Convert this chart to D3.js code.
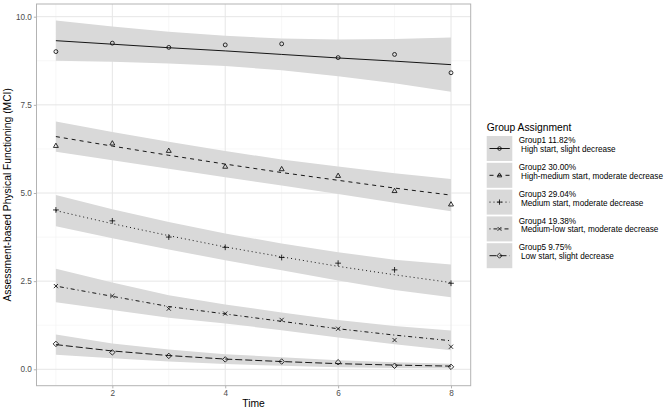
<!DOCTYPE html>
<html>
<head>
<meta charset="utf-8">
<script src="https://cdn.jsdelivr.net/npm/d3@7"></script>
<style>
  html, body { margin: 0; padding: 0; background: #fff; }
  svg { display: block; font-family: "Liberation Sans", Arial, sans-serif; }
</style>
</head>
<body>
<svg id="chart" width="666" height="411"></svg>
<script>
// ---------- data ----------
const times = [1, 2, 3, 4, 5, 6, 7, 8];
const xTicks = [2, 4, 6, 8];
const yTicks = [0, 2.5, 5, 7.5, 10];
const yTickLabels = ["0.0", "2.5", "5.0", "7.5", "10.0"];
const xMinor = [1, 3, 5, 7];
const yMinor = [1.25, 3.75, 6.25, 8.75];

const groupNames = ["Group1 11.82%", "Group2 30.00%", "Group3 29.04%", "Group4 19.38%", "Group5 9.75%"];
const groupDescs = ["High start, slight decrease", "High-medium start, moderate decrease",
  "Medium start, moderate decrease", "Medium-low start, moderate decrease", "Low start, slight decrease"];

const obs1 = [9.01, 9.25, 9.13, 9.20, 9.23, 8.84, 8.93, 8.41];
const fit1 = [9.32, 9.22, 9.12, 9.03, 8.93, 8.83, 8.74, 8.64];
const hi1  = [9.89, 9.72, 9.57, 9.46, 9.38, 9.35, 9.37, 9.41];
const lo1  = [8.75, 8.72, 8.67, 8.60, 8.48, 8.31, 8.11, 7.87];

const obs2 = [6.34, 6.41, 6.20, 5.75, 5.68, 5.49, 5.06, 4.68];
const fit2 = [6.60, 6.33, 6.07, 5.82, 5.58, 5.36, 5.14, 4.94];
const hi2  = [7.03, 6.73, 6.45, 6.19, 5.95, 5.75, 5.56, 5.40];
const lo2  = [6.17, 5.93, 5.69, 5.45, 5.21, 4.97, 4.72, 4.48];

const obs3 = [4.52, 4.21, 3.75, 3.46, 3.17, 3.01, 2.82, 2.44];
const fit3 = [4.50, 4.13, 3.79, 3.47, 3.19, 2.92, 2.68, 2.46];
const hi3  = [4.94, 4.54, 4.18, 3.85, 3.57, 3.32, 3.11, 2.97];
const lo3  = [4.06, 3.72, 3.40, 3.09, 2.81, 2.52, 2.25, 2.04];

const obs4 = [2.36, 2.08, 1.72, 1.58, 1.40, 1.15, 0.83, 0.64];
const fit4 = [2.36, 2.07, 1.78, 1.57, 1.36, 1.15, 0.97, 0.81];
const hi4  = [2.85, 2.46, 2.10, 1.84, 1.61, 1.40, 1.23, 1.10];
const lo4  = [1.90, 1.68, 1.46, 1.30, 1.11, 0.90, 0.71, 0.54];

const obs5 = [0.72, 0.48, 0.38, 0.28, 0.22, 0.20, 0.10, 0.07];
const fit5 = [0.70, 0.52, 0.39, 0.29, 0.22, 0.16, 0.12, 0.09];
const hi5  = [0.99, 0.73, 0.56, 0.43, 0.34, 0.26, 0.20, 0.16];
const lo5  = [0.41, 0.31, 0.22, 0.15, 0.10, 0.06, 0.04, 0.02];

const obsAll = [obs1, obs2, obs3, obs4, obs5];
const fitAll = [fit1, fit2, fit3, fit4, fit5];
const hiAll = [hi1, hi2, hi3, hi4, hi5];
const loAll = [lo1, lo2, lo3, lo4, lo5];

// styles
const dashes = [null, "4,4", "1,3", "1,3,4,3", "7,3"];
const shapes = ["circle", "triangle", "plus", "cross", "diamond"];
const ribbonFill = "#d9d9d9";

// ---------- layout ----------
const svg = d3.select("#chart");
const panel = { left: 36.5, right: 470.7, top: 4, bottom: 385.7 };
const x = d3.scaleLinear().domain([1, 8]).range([55.9, 451]);
const y = d3.scaleLinear().domain([0, 10]).range([369.3, 16.7]);

// panel background
svg.append("rect").attr("x", panel.left).attr("y", panel.top)
  .attr("width", panel.right - panel.left).attr("height", panel.bottom - panel.top)
  .attr("fill", "#fff");

// grid
const grid = svg.append("g");
yMinor.forEach(v => grid.append("line").attr("x1", panel.left).attr("x2", panel.right)
  .attr("y1", y(v)).attr("y2", y(v)).attr("stroke", "#f1f1f1").attr("stroke-width", 0.6));
xMinor.forEach(v => grid.append("line").attr("y1", panel.top).attr("y2", panel.bottom)
  .attr("x1", x(v)).attr("x2", x(v)).attr("stroke", "#f1f1f1").attr("stroke-width", 0.6));
yTicks.forEach(v => grid.append("line").attr("x1", panel.left).attr("x2", panel.right)
  .attr("y1", y(v)).attr("y2", y(v)).attr("stroke", "#e6e6e6").attr("stroke-width", 1));
xTicks.forEach(v => grid.append("line").attr("y1", panel.top).attr("y2", panel.bottom)
  .attr("x1", x(v)).attr("x2", x(v)).attr("stroke", "#e6e6e6").attr("stroke-width", 1));

// symbol drawing
function drawShape(g, shape, cx, cy, s) {
  const st = { stroke: "#000", "stroke-width": 0.8, fill: "none" };
  let el;
  if (shape === "circle") {
    el = g.append("circle").attr("cx", cx).attr("cy", cy).attr("r", s * 0.75);
  } else if (shape === "triangle") {
    const r = s * 1.0;
    el = g.append("path").attr("d",
      `M${cx},${cy - r}L${cx + r * 0.95},${cy + r * 0.65}L${cx - r * 0.95},${cy + r * 0.65}Z`);
  } else if (shape === "plus") {
    const r = s * 1.1;
    el = g.append("path").attr("d", `M${cx - r},${cy}H${cx + r}M${cx},${cy - r}V${cy + r}`);
  } else if (shape === "cross") {
    const r = s * 0.8;
    el = g.append("path").attr("d", `M${cx - r},${cy - r}L${cx + r},${cy + r}M${cx - r},${cy + r}L${cx + r},${cy - r}`);
  } else {
    const r = s * 1.05;
    el = g.append("path").attr("d", `M${cx},${cy - r}L${cx + r},${cy}L${cx},${cy + r}L${cx - r},${cy}Z`);
  }
  Object.entries(st).forEach(([k, v]) => el.attr(k, v));
}

const area = d3.area().x(d => x(d.t)).y0(d => y(d.lo)).y1(d => y(d.hi));
const line = d3.line().x(d => x(d.t)).y(d => y(d.v));

// ribbons
const plotG = svg.append("g");
for (let g = 0; g < 5; g++) {
  const rows = times.map((t, i) => ({ t, lo: loAll[g][i], hi: hiAll[g][i] }));
  plotG.append("path").datum(rows).attr("d", area).attr("fill", ribbonFill);
}
// lines and points
for (let g = 0; g < 5; g++) {
  const rows = times.map((t, i) => ({ t, v: fitAll[g][i] }));
  const p = plotG.append("path").datum(rows).attr("d", line)
    .attr("fill", "none").attr("stroke", "#000").attr("stroke-width", 0.9);
  if (dashes[g]) p.attr("stroke-dasharray", dashes[g]);
  times.forEach((t, i) => drawShape(plotG, shapes[g], x(t), y(obsAll[g][i]), 2.6));
}

// panel border
svg.append("rect").attr("x", panel.left).attr("y", panel.top)
  .attr("width", panel.right - panel.left).attr("height", panel.bottom - panel.top)
  .attr("fill", "none").attr("stroke", "#b3b3b3").attr("stroke-width", 1);

// axes
const yAxis = d3.axisLeft(y).tickValues(yTicks).tickFormat((d, i) => yTickLabels[i])
  .tickSize(2.7).tickPadding(2);
const yg = svg.append("g").attr("transform", `translate(${panel.left},0)`).call(yAxis);
const xAxis = d3.axisBottom(x).tickValues(xTicks).tickFormat(d3.format("d"))
  .tickSize(2.7).tickPadding(2);
const xg = svg.append("g").attr("transform", `translate(0,${panel.bottom})`).call(xAxis);
[yg, xg].forEach(g => {
  g.select(".domain").remove();
  g.selectAll(".tick line").attr("stroke", "#b3b3b3");
  g.selectAll(".tick text").attr("fill", "#4d4d4d").style("font-size", "8.2px")
    .style("font-family", "'Liberation Sans', Arial, sans-serif");
});

// axis titles
svg.append("text").attr("x", (panel.left + panel.right) / 2).attr("y", 407)
  .attr("text-anchor", "middle").style("font-size", "10.3px").attr("fill", "#000").text("Time");
svg.append("text")
  .attr("transform", `translate(10.7,${(panel.top + panel.bottom) / 2}) rotate(-90)`)
  .attr("text-anchor", "middle").style("font-size", "10.3px").attr("fill", "#000")
  .text("Assessment-based Physical Functioning (MCI)");

// legend
const leg = svg.append("g");
leg.append("text").attr("x", 486.7).attr("y", 130.5).style("font-size", "10.3px")
  .attr("fill", "#000").text("Group Assignment");
const keyTop = 136, keyPitch = 26.8, keyW = 25.6, keyH = 25;
for (let g = 0; g < 5; g++) {
  const ty = keyTop + g * keyPitch;
  leg.append("rect").attr("x", 486.7).attr("y", ty).attr("width", keyW).attr("height", keyH)
    .attr("fill", ribbonFill);
  const cy = ty + keyH / 2;
  const l = leg.append("line").attr("x1", 489.5).attr("x2", 509.8).attr("y1", cy).attr("y2", cy)
    .attr("stroke", "#000").attr("stroke-width", 0.9);
  if (dashes[g]) l.attr("stroke-dasharray", dashes[g]);
  drawShape(leg, shapes[g], 499.5, cy, 2.4);
  leg.append("text").attr("x", 518.7).attr("y", ty + 7.2).style("font-size", "8.2px")
    .attr("fill", "#000").text(groupNames[g]);
  leg.append("text").attr("x", 521).attr("y", ty + 16).style("font-size", "8.2px")
    .attr("fill", "#000").text(groupDescs[g]);
}
</script>
</body>
</html>
